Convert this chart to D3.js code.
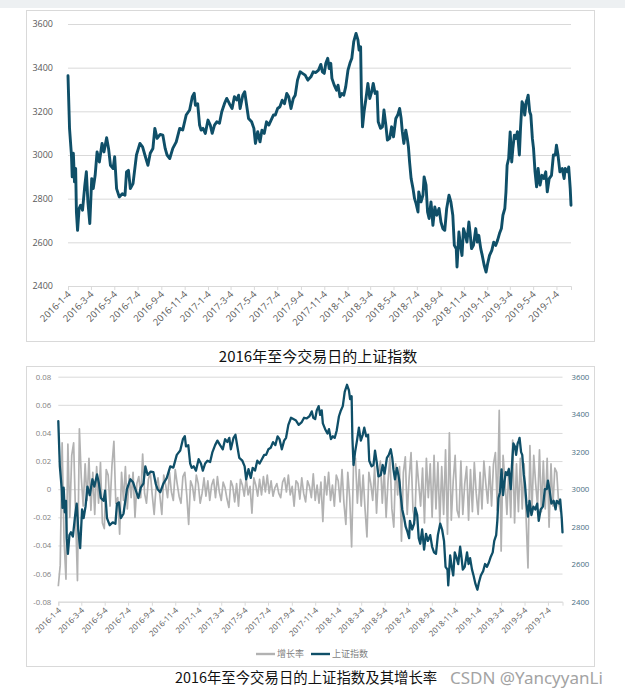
<!DOCTYPE html>
<html><head><meta charset="utf-8">
<script src="https://cdn.jsdelivr.net/npm/d3@7"></script>
<style>body{margin:0;background:#fff;}svg{display:block}</style>
</head><body><svg id="c" width="625" height="699"></svg>
<script>
// ---------- data ----------
const startDate = "2016-01-04";
const endOffsetDays = 1315;
const tickLabels = ["2016-1-4","2016-3-4","2016-5-4","2016-7-4","2016-9-4","2016-11-4",
  "2017-1-4","2017-3-4","2017-5-4","2017-7-4","2017-9-4","2017-11-4",
  "2018-1-4","2018-3-4","2018-5-4","2018-7-4","2018-9-4","2018-11-4",
  "2019-1-4","2019-3-4","2019-5-4","2019-7-4"];
const indexTicks = [2400,2600,2800,3000,3200,3400,3600];
const rateTicks = [-0.08,-0.06,-0.04,-0.02,0,0.02,0.04,0.06,0.08];
const seriesNames = ["增长率","上证指数"];
const titles = ["2016年至今交易日的上证指数","2016年至今交易日的上证指数及其增长率"];
const watermark = "CSDN @YancyyanLi";

// [days since 2016-01-04, 上证指数]
const indexPoints = [
[0,3363],[3,3183],[4,3122],[9,3000],[11,2900],[14,3008],[17,2877],[20,2938],[22,2739],[25,2655],
[29,2755],[33,2770],[38,2747],[44,2862],[48,2923],[52,2785],[57,2686],[62,2892],[66,2846],[71,2907],
[76,3014],[82,2968],[89,3053],[94,3014],[101,3079],[106,3030],[111,2953],[118,2938],[122,2992],[127,2846],
[134,2808],[142,2823],[149,2816],[153,2923],[158,2930],[163,2846],[170,2869],[179,3000],[188,3053],[195,3037],
[201,3000],[209,2953],[215,3008],[222,3030],[227,3122],[233,3076],[241,3094],[248,3091],[254,3030],[259,3000],
[266,2984],[274,3030],[283,3060],[292,3122],[300,3115],[309,3183],[318,3206],[325,3267],[330,3283],
[333,3228],[339,3235],[344,3137],[348,3114],[353,3122],[359,3099],[366,3160],[372,3137],[377,3099],[383,3137],
[389,3152],[396,3145],[402,3198],[409,3235],[415,3259],[422,3235],[429,3213],[435,3267],[441,3252],[446,3274],
[450,3213],[457,3274],[462,3290],[467,3228],[472,3167],[480,3152],[486,3122],[490,3053],[496,3107],[502,3060],
[507,3114],[513,3099],[519,3152],[525,3137],[531,3160],[537,3183],[542,3183],[548,3213],[554,3221],[560,3251],
[566,3235],[572,3282],[577,3267],[583,3213],[589,3259],[594,3274],[600,3343],[607,3381],[613,3374],[620,3366],
[627,3343],[635,3358],[641,3381],[648,3378],[655,3389],[661,3415],
[665,3381],[670,3374],[674,3420],[679,3443],[683,3396],[687,3420],[690,3351],[696,3320],[702,3297],[706,3320],
[711,3267],[716,3282],[721,3274],[726,3312],[732,3389],[737,3420],[742,3443],[747,3519],[753,3557],[758,3527],
[761,3481],[765,3496],[767,3274],[770,3129],[774,3198],[779,3259],[784,3328],[789,3259],[794,3290],[798,3328],
[803,3282],[808,3290],[811,3152],[817,3122],[822,3129],[826,3206],[831,3137],[835,3068],[841,3076],[846,3129],
[851,3083],[857,3167],[862,3183],[867,3213],[871,3167],[874,3107],[878,3053],[883,3114],[887,3076],[890,3037],
[893,2968],[897,2892],[902,2846],[906,2800],[910,2777],[915,2739],[917,2831],[923,2785],[928,2816],[931,2900],
[936,2862],[940,2739],[944,2709],[949,2785],[954,2678],[959,2762],[964,2724],[970,2755],[975,2693],[980,2663],
[985,2655],[990,2755],[996,2816],[1001,2785],[1006,2724],
[1010,2586],[1015,2571],[1017,2487],[1022,2647],[1026,2586],[1030,2540],[1034,2663],[1039,2632],[1043,2601],[1048,2693],
[1051,2647],[1055,2571],[1060,2586],[1066,2663],[1070,2601],[1074,2632],[1079,2571],[1083,2540],[1088,2495],[1093,2464],
[1097,2502],[1102,2540],[1108,2563],[1113,2601],[1118,2586],[1123,2609],[1128,2640],[1133,2663],[1137,2724],[1142,2755],
[1145,2831],[1148,2953],[1152,2984],[1156,3106],[1160,2968],[1163,3030],[1167,3091],[1171,3076],[1175,3107],[1180,3000],
[1183,3122],[1187,3244],[1191,3228],[1194,3183],[1198,3244],[1201,3259],[1203,3274],[1207,3198],[1210,3183],[1214,3076],
[1217,3030],[1221,2923],[1225,2854],[1229,2938],[1234,2862],[1239,2907],[1244,2892],[1249,2923],[1253,2831],[1258,2892],
[1264,2907],[1269,3000],[1274,3000],[1277,3045],[1281,3000],[1286,2923],[1292,2938],[1297,2892],[1300,2938],[1306,2923],
[1309,2945],[1313,2846],[1315,2770]
];

// 增长率, one value every 5 days from 2016-01-04
const growthStepDays = 5;
const growthValues = [
-0.069,-0.054,0.033,-0.036,-0.064,0.032,-0.020,0.024,0.033,-0.018,
-0.065,0.043,0.008,-0.012,0.018,-0.008,0.022,-0.015,0.012,-0.018,
0.016,-0.010,0.019,-0.024,-0.028,0.014,0.010,-0.012,0.017,0.034,
-0.010,-0.006,-0.032,0.012,-0.008,0.016,-0.014,0.010,-0.006,0.012,
-0.020,0.004,0.009,-0.006,0.025,-0.003,-0.010,0.007,0.012,-0.004,
-0.018,0.002,0.008,-0.005,-0.018,0.010,0.003,-0.006,0.012,-0.002,
-0.008,0.014,0.004,-0.005,-0.010,0.009,0.012,-0.004,-0.025,0.006,
0.002,-0.008,0.010,0.004,-0.010,-0.003,0.008,-0.005,0.006,-0.008,
0.003,0.007,-0.006,0.009,-0.002,-0.008,0.005,0.001,-0.007,-0.013,
0.006,0.002,-0.009,0.004,-0.012,0.007,0.003,-0.005,0.008,-0.004,
0.002,-0.017,0.008,0.003,-0.005,0.007,-0.004,0.009,-0.002,0.010,
-0.003,0.006,-0.005,0.001,0.004,-0.003,-0.006,0.005,0.008,-0.002,
0.010,-0.004,0.002,-0.012,0.006,0.004,-0.007,0.008,-0.003,-0.009,
0.006,0.002,-0.006,0.011,-0.008,0.003,-0.010,0.005,-0.023,0.009,
-0.004,0.012,-0.008,0.003,-0.012,0.010,0.006,-0.009,0.014,-0.010,
-0.025,0.012,-0.006,-0.041,0.018,0.022,-0.010,0.014,-0.012,0.010,
-0.014,-0.034,0.012,0.004,-0.008,0.016,-0.017,0.010,0.020,-0.010,
0.014,-0.020,0.006,0.023,-0.014,-0.027,0.018,-0.004,0.016,-0.037,
0.012,0.023,-0.018,0.008,0.026,-0.015,-0.022,0.020,0.004,-0.012,
0.015,-0.024,0.022,-0.006,0.018,-0.020,0.024,-0.014,0.019,-0.024,
0.016,-0.018,0.028,-0.032,0.040,-0.022,0.006,0.024,-0.015,-0.020,
0.020,-0.018,0.004,0.016,-0.022,0.014,-0.016,0.019,-0.003,-0.018,
0.012,-0.014,0.020,0.004,-0.010,0.016,-0.012,0.018,0.026,-0.015,
0.056,-0.044,0.024,0.006,-0.018,0.015,-0.020,0.035,-0.024,0.018,
-0.016,0.022,-0.014,0.018,-0.020,-0.056,0.031,-0.018,0.024,0.004,
-0.012,0.028,-0.016,0.020,-0.014,0.022,-0.027,0.018,-0.012,0.015,
0.012,-0.010,-0.016
];

// ---------- styles ----------
const DARK = "#0f4f68", GRAY = "#b2b2b2", GRID = "#d9d9d9";
const AX_FONT = "'Open Sans', sans-serif";
const CJK = "'Noto Sans CJK SC', sans-serif";

const svg = d3.select("#c");
const parse = d3.utcParse("%Y-%m-%d");
const t0 = parse(startDate);
const tEnd = d3.utcDay.offset(t0, endOffsetDays);
const tickDates = tickLabels.map(s => parse(s));
const idx = indexPoints.map(([d, v]) => ({date: d3.utcDay.offset(t0, d), v}));
const gr = growthValues.map((v, i) => ({date: d3.utcDay.offset(t0, i * growthStepDays), v}));

svg.append("rect").attr("x",0).attr("y",0).attr("width",625).attr("height",8).attr("fill","#edf0f2");

function styleXAxis(g, fs) {
  g.select(".domain").attr("stroke", GRID);
  g.selectAll(".tick line").attr("stroke", GRID);
  g.selectAll(".tick text")
    .attr("x", 0).attr("y", 0).attr("dy", 0)
    .attr("transform", "translate(3,9) rotate(-45)")
    .attr("text-anchor", "end")
    .attr("fill", "#595959")
    .style("font-family", AX_FONT).style("font-size", fs + "px");
}
function styleYGrid(g) {
  g.select(".domain").remove();
  g.selectAll(".tick line").attr("stroke", GRID);
}

// ================= Chart 1 =================
svg.append("rect").attr("x",26.5).attr("y",10.5).attr("width",568).attr("height",331)
  .attr("fill","#fff").attr("stroke", GRID);

const x1 = d3.scaleUtc().domain([t0, tEnd]).range([68, 571]);
const y1 = d3.scaleLinear().domain([2400, 3600]).range([286, 24]);

svg.append("g").attr("transform","translate(68,0)")
  .call(d3.axisLeft(y1).tickValues(indexTicks).tickSize(-(571-68)).tickPadding(15).tickFormat(d3.format("d")))
  .call(styleYGrid)
  .call(g => g.selectAll(".tick text").attr("fill","#595959").style("font-family",AX_FONT).style("font-size","9px"));

svg.append("g").attr("transform","translate(0,286)")
  .call(d3.axisBottom(x1).tickValues(tickDates).tickSize(4).tickFormat((d,i) => tickLabels[i]))
  .call(g => styleXAxis(g, 9.5));

svg.append("path").datum(idx)
  .attr("fill","none").attr("stroke", DARK).attr("stroke-width", 2.9)
  .attr("stroke-linejoin","round").attr("stroke-linecap","round")
  .attr("d", d3.line().x(d => x1(d.date)).y(d => y1(d.v)));

svg.append("text").attr("x", 318).attr("y", 362).attr("text-anchor","middle")
  .style("font-family", CJK).style("font-size","15px").attr("fill","#111").text(titles[0]);

// ================= Chart 2 =================
svg.append("rect").attr("x",26.5).attr("y",366.5).attr("width",568).attr("height",300)
  .attr("fill","#fff").attr("stroke", GRID);

const x2 = d3.scaleUtc().domain([t0, tEnd]).range([58.3, 562.5]);
const yL = d3.scaleLinear().domain([-0.08, 0.08]).range([601.7, 376.7]);
const yR = d3.scaleLinear().domain([2400, 3600]).range([601.7, 376.7]);

svg.append("g").attr("transform","translate(58.3,0)")
  .call(d3.axisLeft(yL).tickValues(rateTicks).tickSize(-(562.5-58.3)).tickPadding(7)
    .tickFormat(d => Math.abs(d) < 1e-9 ? "0" : d.toFixed(2)))
  .call(styleYGrid)
  .call(g => g.selectAll(".tick text").attr("fill","#7f7f7f").style("font-family",AX_FONT).style("font-size","7.8px"));

svg.append("g").attr("transform","translate(562.5,0)")
  .call(d3.axisRight(yR).tickValues(indexTicks).tickSize(0).tickPadding(9).tickFormat(d3.format("d")))
  .call(g => g.select(".domain").remove())
  .call(g => g.selectAll(".tick text").attr("fill","#4a6e82").style("font-family",AX_FONT).style("font-size","7.8px"));

svg.append("g").attr("transform","translate(0,601.7)")
  .call(d3.axisBottom(x2).tickValues(tickDates).tickSize(4).tickFormat((d,i) => tickLabels[i]))
  .call(g => styleXAxis(g, 8));

svg.append("path").datum(gr)
  .attr("fill","none").attr("stroke", GRAY).attr("stroke-width", 1.7)
  .attr("stroke-linejoin","round")
  .attr("d", d3.line().x(d => x2(d.date)).y(d => yL(d.v)));

svg.append("path").datum(idx)
  .attr("fill","none").attr("stroke", DARK).attr("stroke-width", 2.3)
  .attr("stroke-linejoin","round").attr("stroke-linecap","round")
  .attr("d", d3.line().x(d => x2(d.date)).y(d => yR(d.v)));

// legend
const lg = svg.append("g").attr("transform","translate(0,654)");
[[256, GRAY, seriesNames[0]], [311, DARK, seriesNames[1]]].forEach(([lx, c, name]) => {
  lg.append("line").attr("x1", lx).attr("x2", lx + 19).attr("y1", 0).attr("y2", 0)
    .attr("stroke", c).attr("stroke-width", 2.4);
  lg.append("text").attr("x", lx + 21).attr("y", 3.2).attr("fill","#7f7f7f")
    .style("font-family", CJK).style("font-size","9px").text(name);
});

svg.append("text").attr("x", 175).attr("y", 683)
  .style("font-family", CJK).style("font-size","14.4px").attr("fill","#111").text(titles[1]);
svg.append("text").attr("x", 450).attr("y", 684)
  .style("font-family", "'Noto Sans', sans-serif").style("font-size","17px").attr("fill","#a3a3a3").text(watermark);
</script></body></html>
